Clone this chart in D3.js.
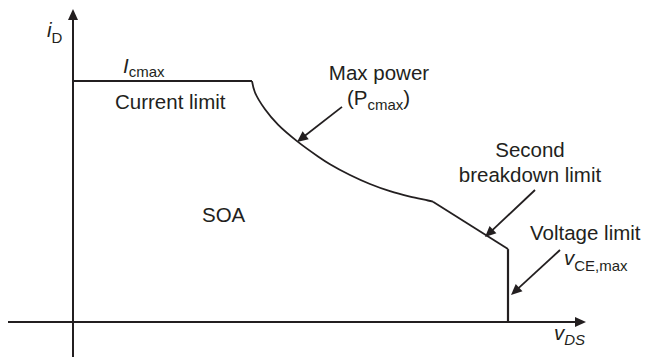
<!DOCTYPE html>
<html>
<head>
<meta charset="utf-8">
<script src="https://cdn.jsdelivr.net/npm/d3@7"></script>
<style>
  html, body { margin: 0; padding: 0; background: #fff; }
  svg { display: block; }
  text { font-family: "Liberation Sans", Arial, sans-serif; fill: #231f20; }
</style>
</head>
<body>
<svg id="chart" width="645" height="359"></svg>
<script>
// ---- data (schematic units: voltage 0..100, current 0..100) ----
const currentLimitV = [0, 35.8];
const currentLimitI = [80.3, 80.3];
const powerCurveV = [35.8, 36.4, 38.4, 41.0, 44.8, 49.0, 51.4, 55.4, 59.4, 63.4, 67.4, 71.0, 72.0];
const powerCurveI = [80.3, 76.5, 70.9, 65.8, 60.3, 55.2, 52.6, 49.0, 46.0, 43.6, 41.8, 40.5, 40.1];
const breakdownV = [72.0, 87.0];
const breakdownI = [40.1, 24.3];
const voltageLimitV = [87.0, 87.0];
const voltageLimitI = [24.3, 0];
const axisXExtent = [-13, 102.6];
const axisYExtent = [-11.7, 104.3];
// annotation arrows: tail -> tip (data units)
const arrowTailV = [53.8, 92.4, 97.4];
const arrowTailI = [71.7, 44.0, 24.0];
const arrowTipV = [44.8, 82.4, 87.6];
const arrowTipI = [60.0, 28.3, 9.0];

const ink = "#231f20";
const svg = d3.select("#chart");
const x = d3.scaleLinear().domain([0, 100]).range([73, 573]);
const y = d3.scaleLinear().domain([0, 100]).range([322, 22]);

function arrowHead(tx, ty, fx, fy, len, half) {
  const a = Math.atan2(ty - fy, tx - fx);
  const bx = tx - len * Math.cos(a), by = ty - len * Math.sin(a);
  const nx = -Math.sin(a) * half, ny = Math.cos(a) * half;
  return `M${tx},${ty}L${bx + nx},${by + ny}L${bx - nx},${by - ny}Z`;
}

// axes
const g = svg.append("g");
g.append("line").attr("x1", x(axisXExtent[0])).attr("x2", x(axisXExtent[1]) - 8)
  .attr("y1", y(0)).attr("y2", y(0)).attr("stroke", ink).attr("stroke-width", 2);
g.append("path").attr("d", arrowHead(x(axisXExtent[1]), y(0), x(0), y(0), 11, 5)).attr("fill", ink);
g.append("line").attr("x1", x(0)).attr("x2", x(0))
  .attr("y1", y(axisYExtent[0])).attr("y2", y(axisYExtent[1]) + 8).attr("stroke", ink).attr("stroke-width", 2);
g.append("path").attr("d", arrowHead(x(0), y(axisYExtent[1]), x(0), y(0), 11, 5)).attr("fill", ink);

// boundary
const lin = d3.line().x(d => x(d[0])).y(d => y(d[1]));
const curv = d3.line().x(d => x(d[0])).y(d => y(d[1])).curve(d3.curveCatmullRom.alpha(0.5));
const zip = (a, b) => a.map((v, i) => [v, b[i]]);
g.append("path").attr("d", lin(zip(currentLimitV, currentLimitI)))
  .attr("fill", "none").attr("stroke", ink).attr("stroke-width", 2);
g.append("path").attr("d", curv(zip(powerCurveV, powerCurveI)))
  .attr("fill", "none").attr("stroke", ink).attr("stroke-width", 1.8);
g.append("path").attr("d", lin(zip(breakdownV, breakdownI)))
  .attr("fill", "none").attr("stroke", ink).attr("stroke-width", 1.8);
g.append("path").attr("d", lin(zip(voltageLimitV, voltageLimitI)))
  .attr("fill", "none").attr("stroke", ink).attr("stroke-width", 2.2);

// annotation arrows
arrowTailV.forEach((tv, i) => {
  const x1 = x(tv), y1 = y(arrowTailI[i]), x2 = x(arrowTipV[i]), y2 = y(arrowTipI[i]);
  const a = Math.atan2(y2 - y1, x2 - x1);
  g.append("line").attr("x1", x1).attr("y1", y1)
    .attr("x2", x2 - 8 * Math.cos(a)).attr("y2", y2 - 8 * Math.sin(a))
    .attr("stroke", ink).attr("stroke-width", 1.8);
  g.append("path").attr("d", arrowHead(x2, y2, x1, y1, 11, 5)).attr("fill", ink);
});

// labels
const fs = 20.5, sub = 15;
function label(px, py, parts, anchor) {
  const t = g.append("text").attr("x", px).attr("y", py).attr("font-size", fs)
    .attr("text-anchor", anchor || "start");
  parts.forEach(p => {
    const s = t.append("tspan").text(p.t);
    if (p.sub) s.attr("font-size", sub).attr("dy", p.dy || 5);
    if (p.up) s.attr("dy", -p.up);
    if (p.it) s.attr("font-style", "italic");
  });
  return t;
}
label(47, 37, [{t: "i", it: true}, {t: "D", sub: true, dy: 6}]);
label(123, 73, [{t: "I", it: true}, {t: "cmax", sub: true, dy: 4}]);
label(115, 109, [{t: "Current limit"}]);
label(202, 222, [{t: "SOA"}]);
label(379, 80, [{t: "Max power"}], "middle");
label(347, 105, [{t: "(P"}, {t: "cmax", sub: true, dy: 5}, {t: ")", up: 5}]);
label(530, 157, [{t: "Second"}], "middle");
label(530, 182, [{t: "breakdown limit"}], "middle");
label(530, 240, [{t: "Voltage limit"}]);
label(564, 265, [{t: "v", it: true}, {t: "CE,max", sub: true, dy: 6}]);
label(554, 340, [{t: "v", it: true}, {t: "DS", sub: true, dy: 5, it: true}]);
</script>
</body>
</html>
